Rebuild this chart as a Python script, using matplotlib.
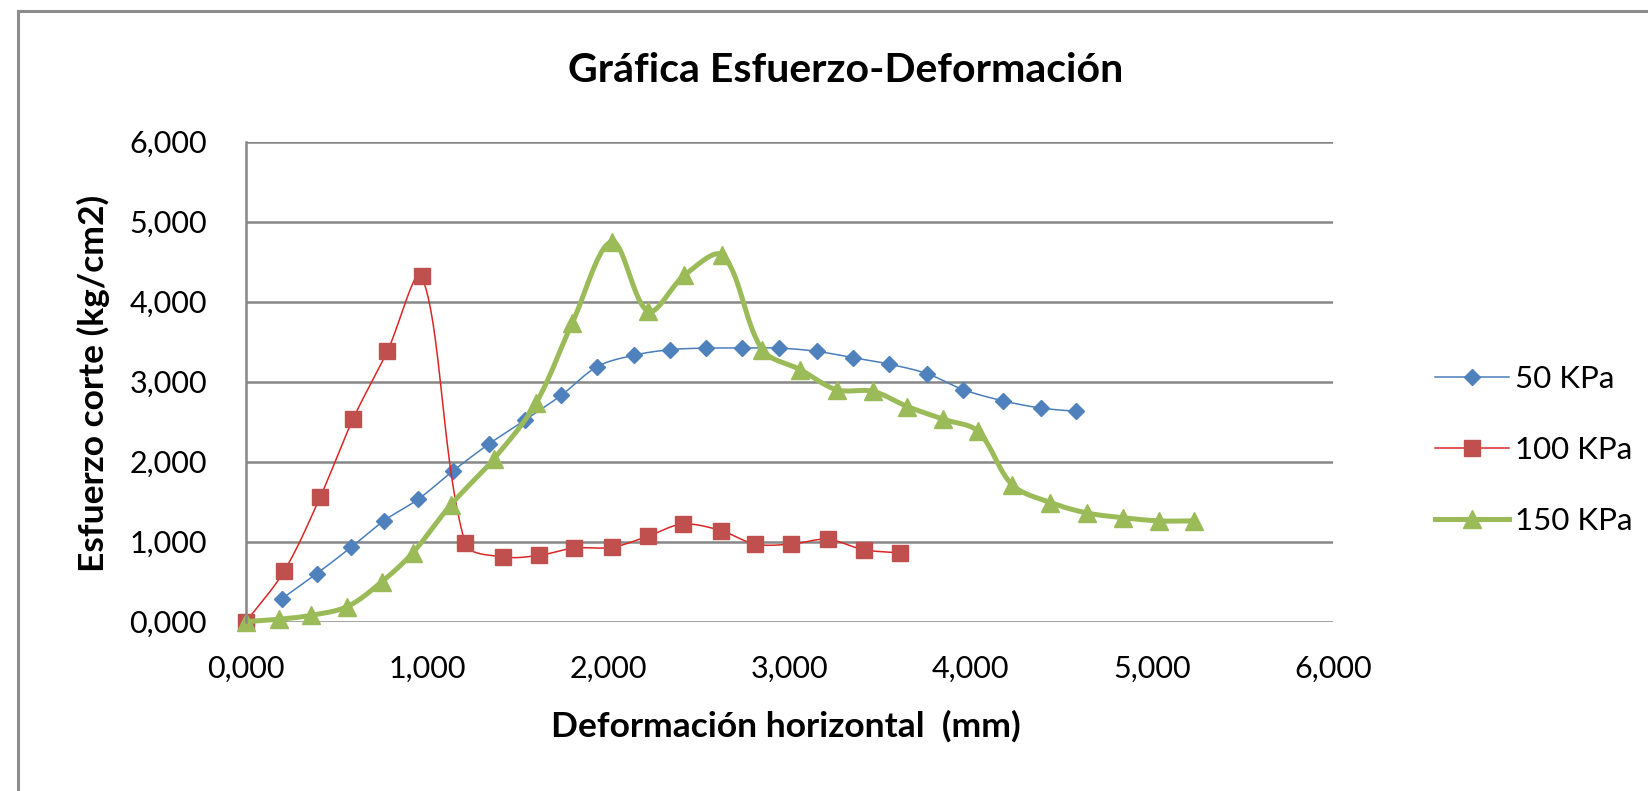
import numpy as np
import matplotlib
matplotlib.use("Agg")
import matplotlib.pyplot as plt
from matplotlib.ticker import MultipleLocator, FuncFormatter
from matplotlib.lines import Line2D

plt.rcParams['font.family'] = ['Lato', 'DejaVu Sans']

# Horizontal displacement (mm) and shear stress (kg/cm2) for each normal load
x_50 = [0.20, 0.39, 0.58, 0.76, 0.95, 1.14, 1.34, 1.54, 1.74, 1.94, 2.14, 2.34,
        2.54, 2.74, 2.94, 3.15, 3.35, 3.55, 3.76, 3.96, 4.18, 4.39, 4.58]
y_50 = [0.29, 0.60, 0.93, 1.26, 1.53, 1.88, 2.22, 2.52, 2.83, 3.19, 3.33, 3.40,
        3.42, 3.42, 3.42, 3.38, 3.30, 3.22, 3.10, 2.90, 2.76, 2.67, 2.63]

x_100 = [0.00, 0.21, 0.41, 0.59, 0.78, 0.97, 1.21, 1.42, 1.62, 1.81, 2.02, 2.22,
         2.41, 2.62, 2.81, 3.01, 3.21, 3.41, 3.61]
y_100 = [0.00, 0.63, 1.56, 2.53, 3.38, 4.32, 0.98, 0.81, 0.83, 0.92, 0.93, 1.07,
         1.22, 1.14, 0.97, 0.97, 1.03, 0.90, 0.86]

x_150 = [0.00, 0.18, 0.36, 0.56, 0.75, 0.92, 1.13, 1.37, 1.60, 1.80, 2.02, 2.22,
         2.42, 2.63, 2.85, 3.06, 3.26, 3.46, 3.65, 3.85, 4.04, 4.23, 4.44, 4.64,
         4.84, 5.04, 5.23]
y_150 = [0.00, 0.03, 0.08, 0.19, 0.50, 0.86, 1.46, 2.04, 2.73, 3.73, 4.75, 3.88,
         4.33, 4.58, 3.40, 3.15, 2.90, 2.88, 2.69, 2.53, 2.38, 1.71, 1.49, 1.36,
         1.30, 1.26, 1.26]

labels = ['50 KPa', '100 KPa', '150 KPa']

FIG_W, FIG_H = 1648, 791
AX_L, AX_R, AX_T, AX_B = 246, 1333, 141.7, 621.7
XMAX, YMAX = 6.0, 6.0
SX = (AX_R - AX_L) / XMAX   # pixels per mm
SY = (AX_B - AX_T) / YMAX   # pixels per kg/cm2


def smooth(x, y, n=24):
    """Cubic Bezier through every point; tangents follow the neighbours and
    are shortened next to short segments (measured on screen).
    Returns the curve and the indices that fall on the original points."""
    P = np.column_stack([np.asarray(x, float), np.asarray(y, float)])
    S = P * [SX, SY]
    Q = np.vstack([P[:1], P, P[-1:]])
    QS = np.vstack([S[:1], S, S[-1:]])
    t = np.linspace(0, 1, n, endpoint=False)[:, None]
    parts = []
    for i in range(len(P) - 1):
        p0, p1, p2, p3 = Q[i], Q[i + 1], Q[i + 2], Q[i + 3]
        s0, s1, s2, s3 = QS[i], QS[i + 1], QS[i + 2], QS[i + 3]
        d01 = np.hypot(*(s1 - s0))
        d12 = np.hypot(*(s2 - s1))
        d23 = np.hypot(*(s3 - s2))
        w1 = d12 / (d01 + d12) if d01 + d12 > 0 else 0.5
        w2 = d12 / (d12 + d23) if d12 + d23 > 0 else 0.5
        c1 = p1 + (p2 - p0) * w1 / 3.0
        c2 = p2 - (p3 - p1) * w2 / 3.0
        seg = ((1 - t) ** 3) * p1 + 3 * ((1 - t) ** 2) * t * c1 \
            + 3 * (1 - t) * t ** 2 * c2 + t ** 3 * p2
        parts.append(seg)
    parts.append(P[-1:])
    C = np.vstack(parts)
    return C[:, 0], C[:, 1], [i * n for i in range(len(P))]


fig = plt.figure(figsize=(FIG_W / 100, FIG_H / 100), dpi=100)
fig.patch.set_facecolor('white')
ax = fig.add_axes([AX_L / FIG_W, 1 - AX_B / FIG_H,
                   (AX_R - AX_L) / FIG_W, (AX_B - AX_T) / FIG_H])

grid_c = '#878787'
series = [
    (x_50, y_50, dict(color='#4A7EBB', lw=1.1, marker='D', ms=8.5,
                      mfc='#4F81BD', mec='#4F81BD')),
    (x_100, y_100, dict(color='#DC2626', lw=1.1, marker='s', ms=11.5,
                        mfc='#C0504D', mec='#C0504D')),
    (x_150, y_150, dict(color='#9BBB59', lw=3.6, marker='^', ms=13,
                        mfc='#9BBB59', mec='#9BBB59')),
]
for (xs, ys, st), lab in zip(series, labels):
    cx, cy, idx = smooth(xs, ys)
    ax.plot(cx, cy, markevery=idx, label=lab, clip_on=False,
            solid_joinstyle='round', **st)

ax.set_xlim(0, XMAX)
ax.set_ylim(0, YMAX)
ax.xaxis.set_major_locator(MultipleLocator(1))
ax.yaxis.set_major_locator(MultipleLocator(1))
fmt = FuncFormatter(lambda v, p: f"{v:.3f}".replace('.', ','))
ax.xaxis.set_major_formatter(fmt)
ax.yaxis.set_major_formatter(fmt)
ax.grid(axis='y', color=grid_c, lw=1.8)
ax.set_axisbelow(True)
for s in ['top', 'right', 'bottom']:
    ax.spines[s].set_visible(False)
ax.spines['left'].set_color(grid_c)
ax.spines['left'].set_linewidth(1.8)
ax.tick_params(axis='both', length=0, labelsize=22, colors='#000000')
ax.tick_params(axis='y', pad=28)
ax.tick_params(axis='x', pad=24)

fig.text(846 / FIG_W, 1 - 70 / FIG_H, 'Gráfica Esfuerzo-Deformación',
         ha='center', va='center', fontsize=29.5, fontweight='bold')
fig.text(786 / FIG_W, 1 - 726 / FIG_H, 'Deformación horizontal  (mm)',
         ha='center', va='center', fontsize=25.5, fontweight='bold')
fig.text(93 / FIG_W, 1 - 383 / FIG_H, 'Esfuerzo corte (kg/cm2)',
         ha='center', va='center', rotation=90, fontsize=25.5, fontweight='bold')

fig.legend(loc='center left', bbox_to_anchor=(1435 / FIG_W, 1 - 450 / FIG_H),
           frameon=False, fontsize=22.5, handlelength=2.36, handletextpad=0.2,
           labelspacing=1.38, borderpad=0, borderaxespad=0)

# outer chart frame (top and left edges)
fig.add_artist(Line2D([18 / FIG_W, 1], [1 - 11 / FIG_H] * 2, transform=fig.transFigure,
                      color='#8C8C8C', lw=2.2))
fig.add_artist(Line2D([18 / FIG_W] * 2, [0, 1 - 11 / FIG_H], transform=fig.transFigure,
                      color='#8C8C8C', lw=2.2))

fig.savefig('out.png', dpi=100, facecolor='white')
